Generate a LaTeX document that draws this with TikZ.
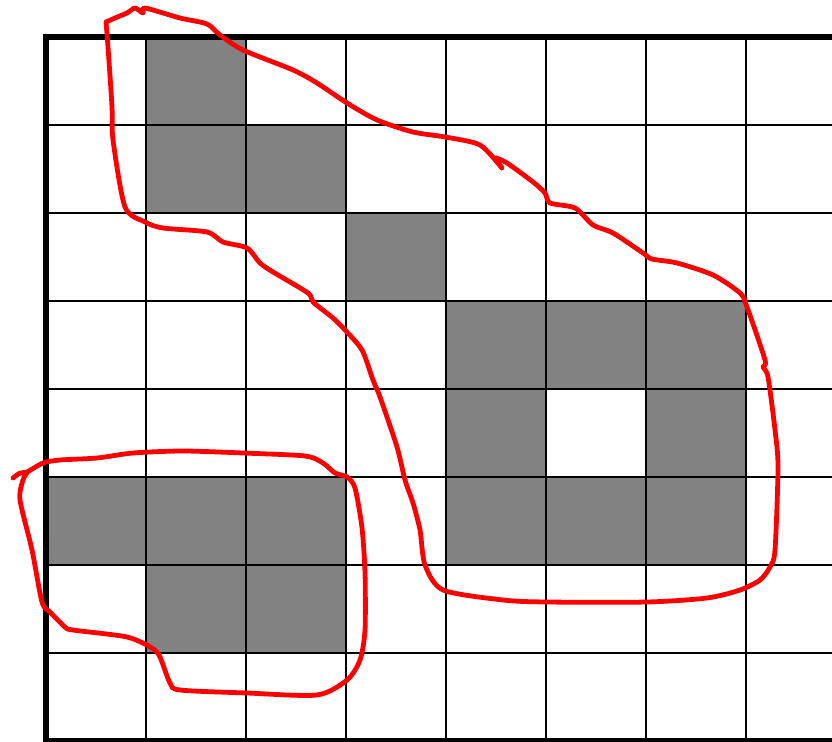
\documentclass[tikz,border=0pt]{standalone}
\usepackage{tikz}
\definecolor{cellgray}{RGB}{130,130,130}
\definecolor{penred}{RGB}{255,0,0}
\tikzset{
  cell/.style={fill=cellgray},
  gridline/.style={draw=black,line width=1.4pt},
  frame/.style={draw=black,line width=3.6pt},
  loop/.style={draw=penred,line width=3.4pt,line join=round,line cap=round},
}
\begin{document}
\begin{tikzpicture}[x=0.025cm,y=-0.025cm]
  \useasboundingbox (0,0) rectangle (832,741);
  \clip (0,0) rectangle (832,741);
  % filled cells (column/row)
  \foreach \c/\r in {1/0,1/1,2/1,3/2,4/3,5/3,6/3,4/4,6/4,0/5,1/5,2/5,4/5,5/5,6/5,1/6,2/6}
    \fill[cell] (46+100*\c,37+88*\r) rectangle ++(100,88);
  % grid
  \foreach \k in {1,...,7} \draw[gridline] (46+100*\k,37) -- (46+100*\k,741);
  \foreach \k in {1,...,7} \draw[gridline] (46,37+88*\k) -- (832,37+88*\k);
  \draw[frame] (46,37) rectangle (900,741);
  % upper loop
  \draw[loop] plot[smooth,tension=0.45] coordinates {
    (106,22) (115,18) (127,13) (135,8) (143,13) (145,8) (180,18) (207,24)
    (220,35) (243,50) (293,70) (317,83) (347,103) (377,120) (413,132)
    (445,137) (480,145) (502,168) (495,158) (507,163) (533,182) (545,193)
    (550,203) (575,208) (593,225) (613,233) (643,253) (652,259) (677,263)
    (713,275) (740,293) (747,307) (765,360) (763,367) (768,377) (775,430)
    (778,467) (775,550) (770,567) (760,580) (740,590) (707,598) (647,602)
    (547,602) (503,600) (443,590) (425,565) (420,530) (413,503) (405,480)
    (397,447) (380,397) (373,380) (362,350) (345,330) (333,318) (313,302)
    (308,293) (273,272) (260,263) (247,248) (223,242) (207,232) (163,228)
    (145,222) (125,207) (113,140) (112,107) (108,47) (106,22)};
  % lower loop
  \draw[loop] plot[smooth,tension=0.45] coordinates {
    (13,478) (20,473) (27,472) (43,463) (60,460) (97,458) (133,453)
    (183,451) (243,453) (305,456) (323,463) (335,473) (347,477) (355,488)
    (362,528) (365,573) (365,630) (360,660) (347,680) (317,695) (247,693)
    (180,690) (170,683) (160,657) (152,648) (127,637) (73,630) (65,627)
    (50,612) (42,602) (32,550) (20,500) (23,480) (27,473)};
\end{tikzpicture}
\end{document}
